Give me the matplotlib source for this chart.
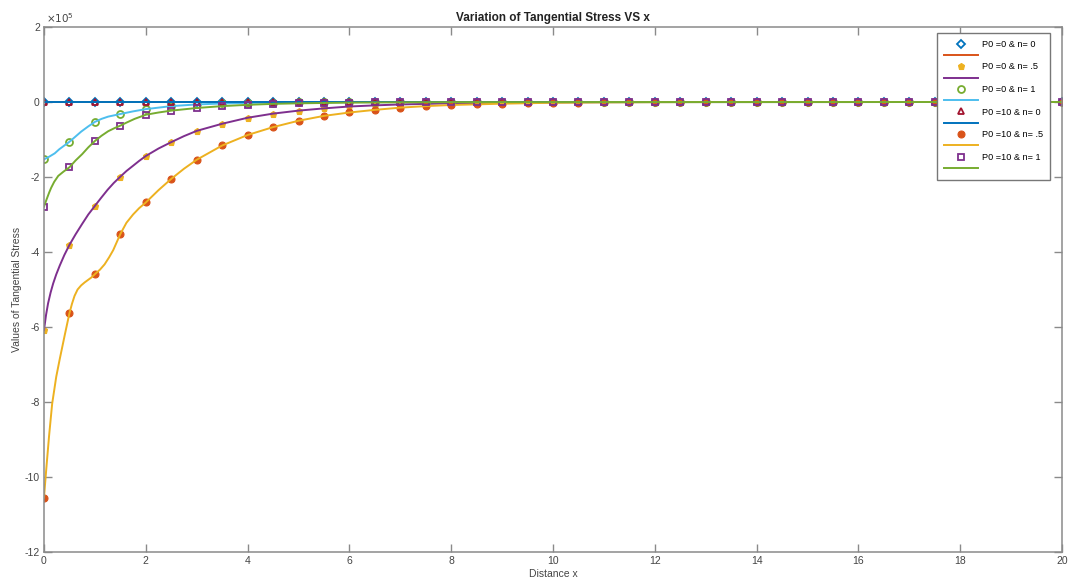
import numpy as np
import matplotlib
matplotlib.use("Agg")
import matplotlib.pyplot as plt
from matplotlib.ticker import FuncFormatter

plt.rcParams['font.family'] = ['Liberation Sans', 'DejaVu Sans']
plt.rcParams['axes.unicode_minus'] = False

SCALE = 1e5

# ---- marker data (x = 0:0.5:20), values in units of 1e5 ----
x_mk = np.arange(0, 20.01, 0.5)
n_mk = len(x_mk)

mk_p0_n0 = [0.0] * n_mk
mk_p0_n05 = [-6.08, -3.81, -2.77, -1.99, -1.44, -1.07, -0.77, -0.58, -0.42, -0.31,
             -0.23, -0.17, -0.12, -0.09, -0.065, -0.05, -0.035, -0.025, -0.018, -0.013,
             -0.01, -0.007, -0.005, -0.003, -0.002, -0.001] + [0.0] * 15
mk_p0_n1 = [-1.53, -1.06, -0.53, -0.32, -0.19, -0.11, -0.065, -0.04, -0.024, -0.014,
            -0.008, -0.005, -0.003] + [0.0] * 28
mk_p10_n0 = [0.0] * n_mk
mk_p10_n05 = [-10.55, -5.63, -4.59, -3.52, -2.68, -2.05, -1.54, -1.16, -0.88, -0.67,
              -0.50, -0.37, -0.28, -0.21, -0.15, -0.11, -0.08, -0.06, -0.045, -0.03,
              -0.02, -0.015, -0.01, -0.007, -0.005, -0.003, -0.002] + [0.0] * 14
mk_p10_n1 = [-2.79, -1.74, -1.04, -0.63, -0.34, -0.23, -0.16, -0.11, -0.075, -0.05,
             -0.035, -0.025, -0.017, -0.012, -0.008, -0.005, -0.003] + [0.0] * 24

# ---- line data, values in units of 1e5 ----
ln_zero_x = [0, 20]
ln_zero_y = [0.0, 0.0]

ln_p0_n05_x = [0, 0.04, 0.08, 0.13, 0.18, 0.24, 0.31, 0.4, 0.5, 0.62, 0.75, 0.87, 1.0,
               1.12, 1.25, 1.37, 1.5, 1.62, 1.75, 1.87, 2.0, 2.25, 2.5, 2.75, 3.0, 3.5,
               4.0, 4.5, 5.0, 5.5, 6.0, 6.5, 7.0, 7.5, 8.0, 9.0, 10.0, 11.0, 12.0, 20.0]
ln_p0_n05_y = [-6.08, -5.68, -5.37, -5.08, -4.84, -4.60, -4.36, -4.08, -3.81, -3.53,
               -3.25, -3.00, -2.77, -2.56, -2.34, -2.16, -1.99, -1.84, -1.70, -1.57,
               -1.44, -1.24, -1.07, -0.91, -0.77, -0.58, -0.42, -0.31, -0.23, -0.17,
               -0.12, -0.09, -0.065, -0.05, -0.035, -0.018, -0.01, -0.005, -0.002, 0.0]

ln_p0_n1_x = [0, 0.1, 0.21, 0.3, 0.37, 0.5, 0.62, 0.73, 0.87, 1.0, 1.13, 1.26, 1.5, 1.75,
              2.0, 2.5, 3.0, 3.5, 4.0, 5.0, 6.0, 20.0]
ln_p0_n1_y = [-1.53, -1.46, -1.37, -1.26, -1.19, -1.06, -0.92, -0.79, -0.65, -0.53,
              -0.45, -0.39, -0.32, -0.25, -0.19, -0.11, -0.065, -0.04, -0.024, -0.008,
              -0.003, 0.0]

ln_p10_n05_x = [0, 0.02, 0.05, 0.1, 0.16, 0.24, 0.31, 0.41, 0.5, 0.55, 0.6, 0.66, 0.73,
                0.8, 0.86, 0.93, 1.0, 1.1, 1.19, 1.28, 1.36, 1.5, 1.62, 1.75, 1.87, 2.0,
                2.25, 2.5, 2.75, 3.0, 3.5, 4.0, 4.5, 5.0, 5.5, 6.0, 6.5, 7.0, 7.5, 8.0,
                9.0, 10.0, 11.0, 12.0, 13.0, 20.0]
ln_p10_n05_y = [-10.55, -10.2, -9.70, -8.90, -8.05, -7.33, -6.85, -6.20, -5.63, -5.38,
                -5.17, -5.00, -4.89, -4.81, -4.75, -4.68, -4.59, -4.47, -4.33, -4.14,
                -3.95, -3.52, -3.22, -3.00, -2.83, -2.68, -2.35, -2.05, -1.78, -1.54,
                -1.16, -0.88, -0.67, -0.50, -0.37, -0.28, -0.21, -0.15, -0.11, -0.08,
                -0.045, -0.02, -0.01, -0.005, -0.002, 0.0]

ln_p10_n1_x = [0, 0.05, 0.1, 0.14, 0.2, 0.28, 0.38, 0.5, 0.62, 0.75, 0.87, 1.0, 1.13,
               1.26, 1.38, 1.5, 1.62, 1.78, 1.9, 2.0, 2.25, 2.5, 3.0, 3.5, 4.0, 4.5, 5.0,
               6.0, 7.0, 8.0, 20.0]
ln_p10_n1_y = [-2.79, -2.60, -2.42, -2.29, -2.13, -1.97, -1.86, -1.74, -1.56, -1.39,
               -1.21, -1.04, -0.90, -0.78, -0.70, -0.63, -0.55, -0.45, -0.39, -0.34,
               -0.28, -0.23, -0.16, -0.11, -0.075, -0.05, -0.035, -0.017, -0.008,
               -0.003, 0.0]

labels = ["P0 =0 & n= 0", "P0 =0 & n= .5", "P0 =0 & n= 1",
          "P0 =10 & n= 0", "P0 =10 & n= .5", "P0 =10 & n= 1"]

C_BLUE, C_ORANGE, C_YELLOW = '#0072BD', '#D95319', '#EDB120'
C_PURPLE, C_GREEN, C_CYAN, C_RED = '#7E2F8E', '#77AC30', '#4DBEEE', '#A2142F'

fig = plt.figure(figsize=(10.75, 5.8), dpi=100)
ax = fig.add_axes([44 / 1075, 28 / 580, (1062 - 44) / 1075, (552 - 27) / 580])

def s(v):
    return np.asarray(v, dtype=float) * SCALE

mew = 1.3
lw = 1.4
handles = []
# order follows the original plotting order: marker series, then line series
h = ax.plot(x_mk, s(mk_p0_n0), ls='none', marker='D', ms=4, mfc='white', mec=C_BLUE, mew=mew)[0]
handles.append(h)
h = ax.plot(ln_zero_x, s(ln_zero_y), color=C_ORANGE, lw=lw)[0]
handles.append(h)
h = ax.plot(x_mk, s(mk_p0_n05), ls='none', marker='p', ms=4.5, mfc=C_YELLOW, mec=C_YELLOW, mew=0.8)[0]
handles.append(h)
h = ax.plot(ln_p0_n05_x, s(ln_p0_n05_y), color=C_PURPLE, lw=lw)[0]
handles.append(h)
h = ax.plot(x_mk, s(mk_p0_n1), ls='none', marker='o', ms=5, mfc='none', mec=C_GREEN, mew=mew)[0]
handles.append(h)
h = ax.plot(ln_p0_n1_x, s(ln_p0_n1_y), color=C_CYAN, lw=lw)[0]
handles.append(h)
h = ax.plot(x_mk, s(mk_p10_n0), ls='none', marker='^', ms=5, mfc='none', mec=C_RED, mew=mew)[0]
handles.append(h)
h = ax.plot(ln_zero_x, s(ln_zero_y), color=C_BLUE, lw=lw)[0]
handles.append(h)
h = ax.plot(x_mk, s(mk_p10_n05), ls='none', marker='o', ms=5, mfc=C_ORANGE, mec=C_ORANGE, mew=0.8)[0]
handles.append(h)
h = ax.plot(ln_p10_n05_x, s(ln_p10_n05_y), color=C_YELLOW, lw=lw)[0]
handles.append(h)
h = ax.plot(x_mk, s(mk_p10_n1), ls='none', marker='s', ms=4.5, mfc='none', mec=C_PURPLE, mew=mew)[0]
handles.append(h)
h = ax.plot(ln_p10_n1_x, s(ln_p10_n1_y), color=C_GREEN, lw=lw)[0]
handles.append(h)

leg_labels = []
for lab in labels:
    leg_labels += [lab, ' ']

ax.set_xlim(0, 20)
ax.set_ylim(-12 * SCALE, 2 * SCALE)
ax.set_xticks(np.arange(0, 21, 2))
ax.set_yticks(np.arange(-12, 3, 2) * SCALE)
ax.yaxis.set_major_formatter(FuncFormatter(lambda v, p: f'{v / SCALE:g}'))

axc = '#8a8a8a'
txtc = '#444444'
for sp in ax.spines.values():
    sp.set_color(axc)
    sp.set_linewidth(1.1)
ax.tick_params(direction='in', length=6, width=1, colors=axc, labelcolor=txtc,
               labelsize=7.5, top=True, right=True, pad=3)

ax.text(0.002, 1.004, r'$\times10^{5}$', transform=ax.transAxes, fontsize=7.5,
        color=txtc, ha='left', va='bottom')

ax.set_title('Variation of Tangential Stress VS x', fontsize=8.5, fontweight='bold',
             color='#222222', pad=4)
ax.set_xlabel('Distance x', fontsize=7.5, color=txtc, labelpad=2)
ax.set_ylabel('Values of Tangential Stress', fontsize=7.5, color=txtc, labelpad=1.5)

leg = ax.legend(handles, leg_labels, loc='upper right',
                bbox_to_anchor=(1050 / 1075, (580 - 33) / 580),
                bbox_transform=fig.transFigure, borderaxespad=0,
                fontsize=6.6, handlelength=3.8, handletextpad=0.4, borderpad=0.75,
                labelspacing=0.25, numpoints=1, fancybox=False, framealpha=1,
                edgecolor='#777777')
leg.get_frame().set_linewidth(1.0)

fig.savefig('out.png', dpi=100, facecolor='white')
